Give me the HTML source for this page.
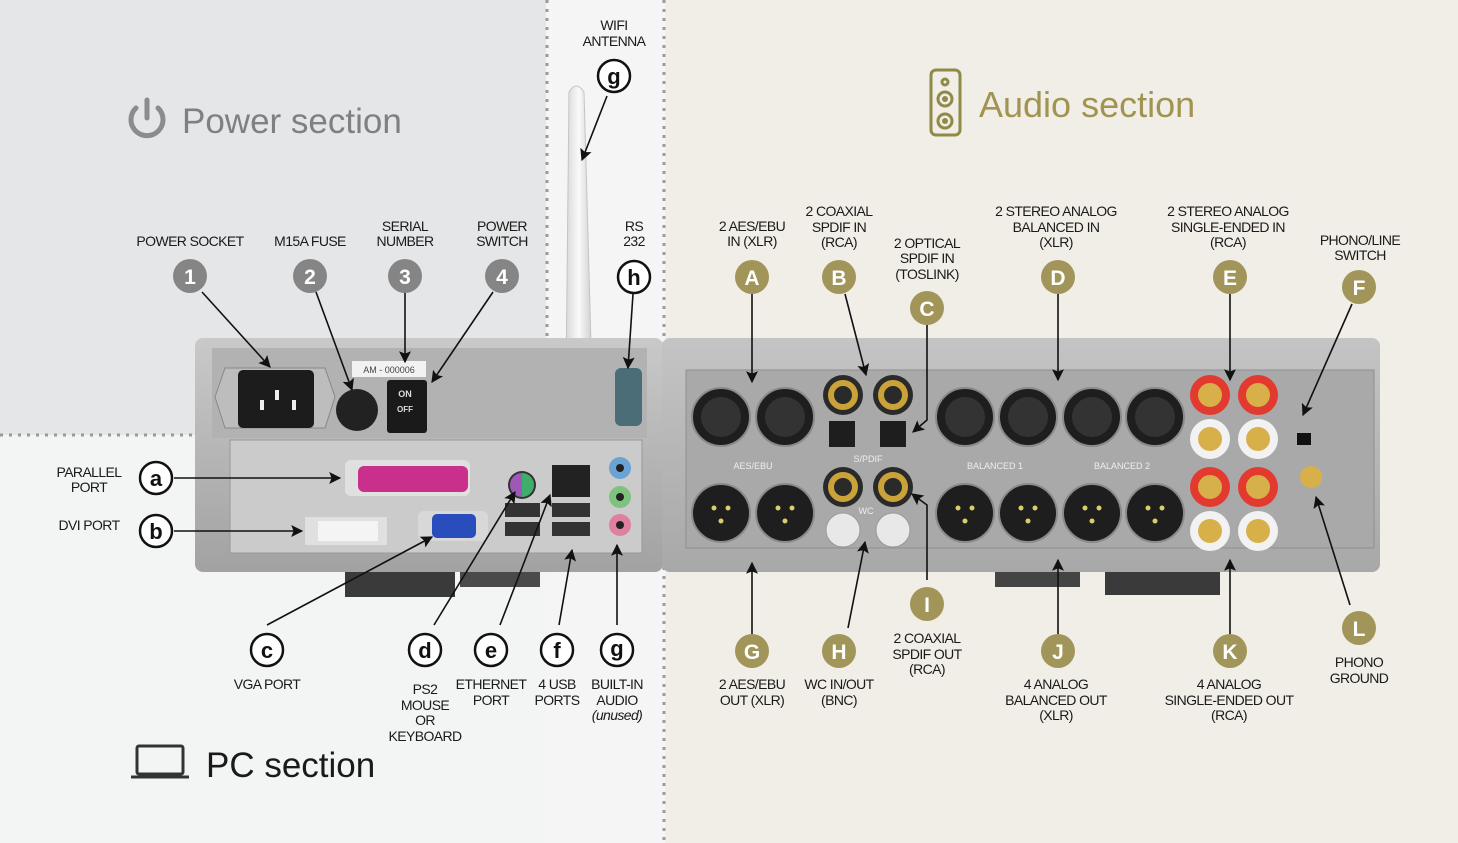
<!DOCTYPE html>
<html><head><meta charset="utf-8"><style>
html,body{margin:0;padding:0;width:1458px;height:843px;overflow:hidden;background:#f1eee8}
svg text{font-family:"Liberation Sans",sans-serif}
.l{font-size:14px;fill:#1a1a1a;text-anchor:middle;letter-spacing:-0.6px}
.bn{font-size:21px;font-weight:bold;fill:#fff;text-anchor:middle}
.bl{font-size:22px;font-weight:bold;fill:#111;text-anchor:middle}
</style></head><body>
<svg width="1458" height="843" viewBox="0 0 1458 843" xmlns="http://www.w3.org/2000/svg">
<defs>
<marker id="a2" viewBox="0 0 10 10" refX="9" refY="5" markerWidth="14" markerHeight="12" orient="auto" markerUnits="userSpaceOnUse"><path d="M0,0 L10,5 L0,10 L2,5 z" fill="#111"/></marker>
<linearGradient id="ch" x1="0" y1="0" x2="0" y2="1"><stop offset="0" stop-color="#c9c9c9"/><stop offset="1" stop-color="#a2a2a2"/></linearGradient>
<linearGradient id="ch2" x1="0" y1="0" x2="0" y2="1"><stop offset="0" stop-color="#c4c4c4"/><stop offset="1" stop-color="#a8a8a8"/></linearGradient>
<linearGradient id="ant" x1="0" y1="0" x2="1" y2="0"><stop offset="0" stop-color="#d8d8d8"/><stop offset="0.5" stop-color="#fafafa"/><stop offset="1" stop-color="#cfcfcf"/></linearGradient>
</defs>
<rect x="0" y="0" width="665" height="843" fill="#f3f4f4"/>
<rect x="0" y="0" width="546" height="435" fill="#e5e6e7"/>
<rect x="546" y="0" width="119" height="843" fill="#f5f5f5"/>
<line x1="547" y1="0" x2="547" y2="340" stroke="#999" stroke-width="3" stroke-dasharray="3,6"/>
<line x1="664" y1="0" x2="664" y2="843" stroke="#999" stroke-width="3" stroke-dasharray="3,6"/>
<line x1="0" y1="435" x2="200" y2="435" stroke="#999" stroke-width="3" stroke-dasharray="3,6"/>

<g fill="none" stroke="#8a8c8e" stroke-width="5" stroke-linecap="round">
<path d="M136,108 A16,16 0 1 0 158,108"/><line x1="147" y1="100" x2="147" y2="118"/></g>
<text x="182" y="133" font-size="35" fill="#7d8084">Power section</text>
<g fill="none" stroke="#8f8a45" stroke-width="3"><rect x="931" y="70" width="29" height="65" rx="5"/>
<circle cx="945" cy="82" r="3"/><circle cx="945" cy="99" r="7"/><circle cx="945" cy="121" r="7"/></g>
<circle cx="945" cy="99" r="3" fill="#8f8a45"/><circle cx="945" cy="121" r="3" fill="#8f8a45"/>
<text x="979" y="117" font-size="36" fill="#a09450">Audio section</text>
<g fill="none" stroke="#333" stroke-width="3"><rect x="137" y="746" width="46" height="28" rx="2"/><path d="M131,777 h58"/></g>
<text x="206" y="777" font-size="35" fill="#1a1a1a">PC section</text>

<path d="M569,92 Q576,80 584,92 L592,380 L566,380 Z" fill="url(#ant)" stroke="#c4c4c4"/>
<rect x="584" y="362" width="16" height="18" fill="#b8952e"/>

<rect x="345" y="565" width="110" height="32" fill="#3a3a3a"/><rect x="460" y="565" width="80" height="22" fill="#4a4a4a"/>
<rect x="195" y="338" width="468" height="234" rx="8" fill="url(#ch)"/>
<rect x="212" y="348" width="435" height="90" fill="#b2b2b2"/>
<rect x="230" y="440" width="412" height="113" fill="#cbcbcb" stroke="#999"/>
<path d="M225,368 L325,368 L335,397 L325,428 L225,428 L215,397 Z" fill="#bdbdbd" stroke="#888"/>
<rect x="238" y="370" width="76" height="58" rx="5" fill="#1c1c1c"/>
<rect x="260" y="400" width="4" height="10" fill="#eee"/><rect x="275" y="390" width="4" height="10" fill="#eee"/><rect x="292" y="400" width="4" height="10" fill="#eee"/>
<circle cx="357" cy="410" r="21" fill="#222"/>
<rect x="352" y="361" width="74" height="16" fill="#f2f2f2"/><text x="389" y="373" font-size="9" fill="#444" text-anchor="middle">AM - 000006</text>
<rect x="387" y="380" width="40" height="53" rx="3" fill="#1a1a1a"/>
<text x="405" y="397" font-size="9" font-weight="bold" fill="#ddd" text-anchor="middle">ON</text><text x="405" y="412" font-size="8" font-weight="bold" fill="#ddd" text-anchor="middle">OFF</text>
<rect x="615" y="368" width="27" height="58" rx="6" fill="#4a6d78"/>
<rect x="345" y="460" width="125" height="36" rx="6" fill="#e0e0e0"/><rect x="358" y="466" width="110" height="26" rx="6" fill="#c9308c"/>
<rect x="305" y="517" width="82" height="28" fill="#e0e0e0"/><rect x="318" y="521" width="60" height="20" fill="#f4f4f4"/>
<rect x="418" y="511" width="70" height="30" rx="6" fill="#d8d8d8"/><rect x="432" y="514" width="44" height="24" rx="5" fill="#2a4dbd"/>
<circle cx="522" cy="485" r="14" fill="#333"/><path d="M522,473 A12,12 0 0 0 522,497 Z" fill="#9c59b6"/><path d="M522,473 A12,12 0 0 1 522,497 Z" fill="#3fae6a"/>
<rect x="552" y="465" width="38" height="32" fill="#222"/>
<rect x="505" y="503" width="35" height="14" fill="#333"/><rect x="505" y="522" width="35" height="14" fill="#333"/>
<rect x="552" y="503" width="38" height="14" fill="#333"/><rect x="552" y="522" width="38" height="14" fill="#333"/>
<circle cx="620" cy="468" r="11" fill="#6aa3d4"/><circle cx="620" cy="497" r="11" fill="#7fc27f"/><circle cx="620" cy="525" r="11" fill="#e07fa0"/>
<circle cx="620" cy="468" r="4" fill="#222"/><circle cx="620" cy="497" r="4" fill="#222"/><circle cx="620" cy="525" r="4" fill="#222"/>

<rect x="995" y="565" width="85" height="22" fill="#444"/><rect x="1105" y="565" width="115" height="30" fill="#3a3a3a"/>
<rect x="662" y="338" width="718" height="234" rx="8" fill="url(#ch2)"/>
<rect x="686" y="370" width="688" height="178" fill="#a9a9a9" stroke="#8f8f8f"/>
<g fill="#1e1e1e" stroke="#8a8a8a" stroke-width="2">
<circle cx="721" cy="417" r="29"/><circle cx="785" cy="417" r="29"/><circle cx="721" cy="513" r="29"/><circle cx="785" cy="513" r="29"/>
<circle cx="965" cy="417" r="29"/><circle cx="1028" cy="417" r="29"/><circle cx="1092" cy="417" r="29"/><circle cx="1155" cy="417" r="29"/>
<circle cx="965" cy="513" r="29"/><circle cx="1028" cy="513" r="29"/><circle cx="1092" cy="513" r="29"/><circle cx="1155" cy="513" r="29"/>
</g>
<g fill="#333"><circle cx="721" cy="417" r="20"/><circle cx="785" cy="417" r="20"/><circle cx="965" cy="417" r="20"/><circle cx="1028" cy="417" r="20"/><circle cx="1092" cy="417" r="20"/><circle cx="1155" cy="417" r="20"/></g>
<g fill="#d8cf6a"><circle cx="714" cy="508" r="2.5"/><circle cx="728" cy="508" r="2.5"/><circle cx="721" cy="521" r="2.5"/><circle cx="778" cy="508" r="2.5"/><circle cx="792" cy="508" r="2.5"/><circle cx="785" cy="521" r="2.5"/>
<circle cx="958" cy="508" r="2.5"/><circle cx="972" cy="508" r="2.5"/><circle cx="965" cy="521" r="2.5"/><circle cx="1021" cy="508" r="2.5"/><circle cx="1035" cy="508" r="2.5"/><circle cx="1028" cy="521" r="2.5"/>
<circle cx="1085" cy="508" r="2.5"/><circle cx="1099" cy="508" r="2.5"/><circle cx="1092" cy="521" r="2.5"/><circle cx="1148" cy="508" r="2.5"/><circle cx="1162" cy="508" r="2.5"/><circle cx="1155" cy="521" r="2.5"/></g>
<g fill="#1e1e1e"><rect x="829" y="421" width="26" height="26"/><rect x="880" y="421" width="26" height="26"/></g>
<g fill="#2a2a2a"><circle cx="843" cy="395" r="20"/><circle cx="893" cy="395" r="20"/><circle cx="843" cy="487" r="20"/><circle cx="893" cy="487" r="20"/></g>
<g fill="none" stroke="#c9a23a" stroke-width="6"><circle cx="843" cy="395" r="12"/><circle cx="893" cy="395" r="12"/><circle cx="843" cy="487" r="12"/><circle cx="893" cy="487" r="12"/></g>
<g fill="#e8e8e8" stroke="#999"><circle cx="843" cy="530" r="17"/><circle cx="893" cy="530" r="17"/></g>
<g fill="#e23a2f"><circle cx="1210" cy="395" r="20"/><circle cx="1258" cy="395" r="20"/><circle cx="1210" cy="487" r="20"/><circle cx="1258" cy="487" r="20"/></g>
<g fill="#f2f2f2"><circle cx="1210" cy="439" r="20"/><circle cx="1258" cy="439" r="20"/><circle cx="1210" cy="531" r="20"/><circle cx="1258" cy="531" r="20"/></g>
<g fill="#d7b04a"><circle cx="1210" cy="395" r="12"/><circle cx="1258" cy="395" r="12"/><circle cx="1210" cy="487" r="12"/><circle cx="1258" cy="487" r="12"/><circle cx="1210" cy="439" r="12"/><circle cx="1258" cy="439" r="12"/><circle cx="1210" cy="531" r="12"/><circle cx="1258" cy="531" r="12"/><circle cx="1311" cy="477" r="11"/></g>
<rect x="1297" y="433" width="14" height="12" fill="#111"/>
<g font-size="9" fill="#eee" text-anchor="middle"><text x="753" y="469">AES/EBU</text><text x="868" y="462">S/PDIF</text><text x="995" y="469">BALANCED 1</text><text x="1122" y="469">BALANCED 2</text><text x="866" y="514">WC</text></g>

<g stroke="#111" stroke-width="1.6" fill="none" marker-end="url(#a2)">
<line x1="202" y1="292" x2="270" y2="367"/>
<line x1="316" y1="292" x2="352" y2="390"/>
<line x1="405" y1="292" x2="405" y2="362"/>
<line x1="493" y1="292" x2="432" y2="382"/>
<line x1="607" y1="96" x2="582" y2="160"/>
<line x1="633" y1="294" x2="628" y2="368"/>
<line x1="752" y1="294" x2="752" y2="382"/>
<line x1="845" y1="294" x2="866" y2="375"/>
<path d="M927,325 L927,420 L913,432"/>
<line x1="1058" y1="294" x2="1058" y2="380"/>
<line x1="1230" y1="294" x2="1230" y2="380"/>
<line x1="1352" y1="304" x2="1303" y2="415"/>
<line x1="174" y1="478" x2="340" y2="478"/>
<line x1="174" y1="531" x2="302" y2="531"/>
<line x1="267" y1="625" x2="432" y2="537"/>
<line x1="434" y1="625" x2="515" y2="492"/>
<line x1="500" y1="625" x2="550" y2="495"/>
<line x1="559" y1="625" x2="572" y2="550"/>
<line x1="617" y1="625" x2="617" y2="545"/>
<line x1="752" y1="634" x2="752" y2="563"/>
<line x1="848" y1="628" x2="865" y2="542"/>
<path d="M927,580 L927,505 L912,494"/>
<line x1="1058" y1="634" x2="1058" y2="560"/>
<line x1="1230" y1="634" x2="1230" y2="560"/>
<line x1="1350" y1="605" x2="1316" y2="497"/>
</g>

<g fill="#858585"><circle cx="190" cy="276" r="17"/><circle cx="310" cy="276" r="17"/><circle cx="405" cy="276" r="17"/><circle cx="502" cy="276" r="17"/></g>
<text x="190" y="284" class="bn">1</text><text x="310" y="284" class="bn">2</text><text x="405" y="284" class="bn">3</text><text x="502" y="284" class="bn">4</text>
<g fill="#fff" stroke="#111" stroke-width="2.5">
<circle cx="614" cy="76" r="16"/><circle cx="634" cy="277" r="16"/><circle cx="156" cy="478" r="16"/><circle cx="156" cy="531" r="16"/>
<circle cx="267" cy="650" r="16"/><circle cx="425" cy="650" r="16"/><circle cx="491" cy="650" r="16"/><circle cx="557" cy="650" r="16"/><circle cx="617" cy="650" r="16"/></g>
<text x="614" y="84" class="bl">g</text><text x="634" y="285" class="bl">h</text><text x="156" y="486" class="bl">a</text><text x="156" y="539" class="bl">b</text>
<text x="267" y="658" class="bl">c</text><text x="425" y="658" class="bl">d</text><text x="491" y="658" class="bl">e</text><text x="557" y="658" class="bl">f</text><text x="617" y="656" class="bl">g</text>
<g fill="#a1955a"><circle cx="752" cy="277" r="17"/><circle cx="839" cy="277" r="17"/><circle cx="927" cy="308" r="17"/><circle cx="1058" cy="277" r="17"/><circle cx="1230" cy="277" r="17"/><circle cx="1359" cy="287" r="17"/>
<circle cx="752" cy="651" r="17"/><circle cx="839" cy="651" r="17"/><circle cx="927" cy="604" r="17"/><circle cx="1058" cy="651" r="17"/><circle cx="1230" cy="651" r="17"/><circle cx="1359" cy="628" r="17"/></g>
<text x="752" y="285" class="bn">A</text><text x="839" y="285" class="bn">B</text><text x="927" y="316" class="bn">C</text><text x="1058" y="285" class="bn">D</text><text x="1230" y="285" class="bn">E</text><text x="1359" y="295" class="bn">F</text>
<text x="752" y="659" class="bn">G</text><text x="839" y="659" class="bn">H</text><text x="927" y="612" class="bn">I</text><text x="1058" y="659" class="bn">J</text><text x="1230" y="659" class="bn">K</text><text x="1359" y="636" class="bn">L</text>

<g class="l">
<text x="614" y="30">WIFI</text><text x="614" y="46">ANTENNA</text>
<text x="190" y="246">POWER SOCKET</text>
<text x="310" y="246">M15A FUSE</text>
<text x="405" y="231">SERIAL</text><text x="405" y="246">NUMBER</text>
<text x="502" y="231">POWER</text><text x="502" y="246">SWITCH</text>
<text x="634" y="231">RS</text><text x="634" y="246">232</text>
<text x="752" y="231">2 AES/EBU</text><text x="752" y="246">IN (XLR)</text>
<text x="839" y="216">2 COAXIAL</text><text x="839" y="232">SPDIF IN</text><text x="839" y="247">(RCA)</text>
<text x="927" y="248">2 OPTICAL</text><text x="927" y="263">SPDIF IN</text><text x="927" y="279">(TOSLINK)</text>
<text x="1056" y="216">2 STEREO ANALOG</text><text x="1056" y="232">BALANCED IN</text><text x="1056" y="247">(XLR)</text>
<text x="1228" y="216">2 STEREO ANALOG</text><text x="1228" y="232">SINGLE-ENDED IN</text><text x="1228" y="247">(RCA)</text>
<text x="1360" y="245">PHONO/LINE</text><text x="1360" y="260">SWITCH</text>
<text x="89" y="477">PARALLEL</text><text x="89" y="492">PORT</text>
<text x="89" y="530">DVI PORT</text>
<text x="267" y="689">VGA PORT</text>
<text x="425" y="694">PS2</text><text x="425" y="710">MOUSE</text><text x="425" y="725">OR</text><text x="425" y="741">KEYBOARD</text>
<text x="491" y="689">ETHERNET</text><text x="491" y="705">PORT</text>
<text x="557" y="689">4 USB</text><text x="557" y="705">PORTS</text>
<text x="617" y="689">BUILT-IN</text><text x="617" y="705">AUDIO</text><text x="617" y="720" font-style="italic">(unused)</text>
<text x="752" y="689">2 AES/EBU</text><text x="752" y="705">OUT (XLR)</text>
<text x="839" y="689">WC IN/OUT</text><text x="839" y="705">(BNC)</text>
<text x="927" y="643">2 COAXIAL</text><text x="927" y="659">SPDIF OUT</text><text x="927" y="674">(RCA)</text>
<text x="1056" y="689">4 ANALOG</text><text x="1056" y="705">BALANCED OUT</text><text x="1056" y="720">(XLR)</text>
<text x="1229" y="689">4 ANALOG</text><text x="1229" y="705">SINGLE-ENDED OUT</text><text x="1229" y="720">(RCA)</text>
<text x="1359" y="667">PHONO</text><text x="1359" y="683">GROUND</text>
</g>
</svg>
</body></html>
